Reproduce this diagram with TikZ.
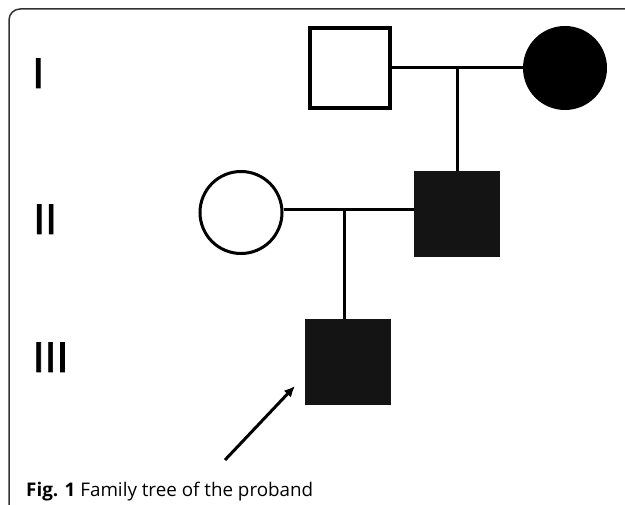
\documentclass[tikz,border=0pt]{standalone}
\usepackage{fontspec}
\setmainfont{Open Sans}
\newfontfamily\numfont[FakeBold=1.6]{Liberation Sans}
\usetikzlibrary{arrows.meta}
\definecolor{affected}{HTML}{141414}
\definecolor{framegray}{HTML}{333333}
\tikzset{
  male/.style={rectangle, draw=black, line width=4pt, minimum size=80pt, inner sep=0pt},
  female/.style={circle, draw=black, line width=3pt, minimum size=82pt, inner sep=0pt},
  affmale/.style={rectangle, fill=affected, draw=affected, line width=0.5pt, minimum size=85pt, inner sep=0pt},
  afffemale/.style={circle, fill=black, minimum size=84pt, inner sep=0pt},
  link/.style={draw=black, line width=3pt},
  gen/.style={font=\numfont\fontsize{43}{43}\selectfont, anchor=base west, inner sep=0pt},
  caption/.style={font=\fontsize{18.8}{22}\selectfont, anchor=base west, inner sep=0pt}
}
\begin{document}
\begin{tikzpicture}[x=1pt,y=-1pt]
\useasboundingbox (0,0) rectangle (625,505);
% frame
\draw[framegray, line width=1.5pt, rounded corners=11pt] (626,9) -- (9,9) -- (9,506);
% generation labels
\node[gen] (g1) at (32,88) {I};
\node[gen] (g2) at (33,234) {II};
\node[gen] (g3) at (32.5,372) {III};
% individuals
\node[male] (s11) at (349.5,68) {};
\node[afffemale] (c12) at (565,68) {};
\node[female] (c21) at (241,212.5) {};
\node[affmale] (s22) at (457,213.5) {};
\node[affmale] (s31) at (348,361.5) {};
% connectors
\coordinate (m1) at (457,68);
\coordinate (m2) at (344,210);
\draw[link] (s11.east) -- (c12.west);
\draw[link] (m1) -- (s22.north);
\draw[link] (m2 -| c21.east) -- (m2 -| s22.west);
\draw[link] (m2) -- (m2 |- s31.north);
% proband arrow
\coordinate (tail) at (225,460);
\coordinate (tip) at (295,386);
\draw[black, line width=3pt, -{Latex[length=11pt,width=10pt]}] (tail) -- (tip);
% caption
\node[caption] (cap) at (26,497) {\textbf{Fig. 1} Family tree of the proband};
\end{tikzpicture}
\end{document}
